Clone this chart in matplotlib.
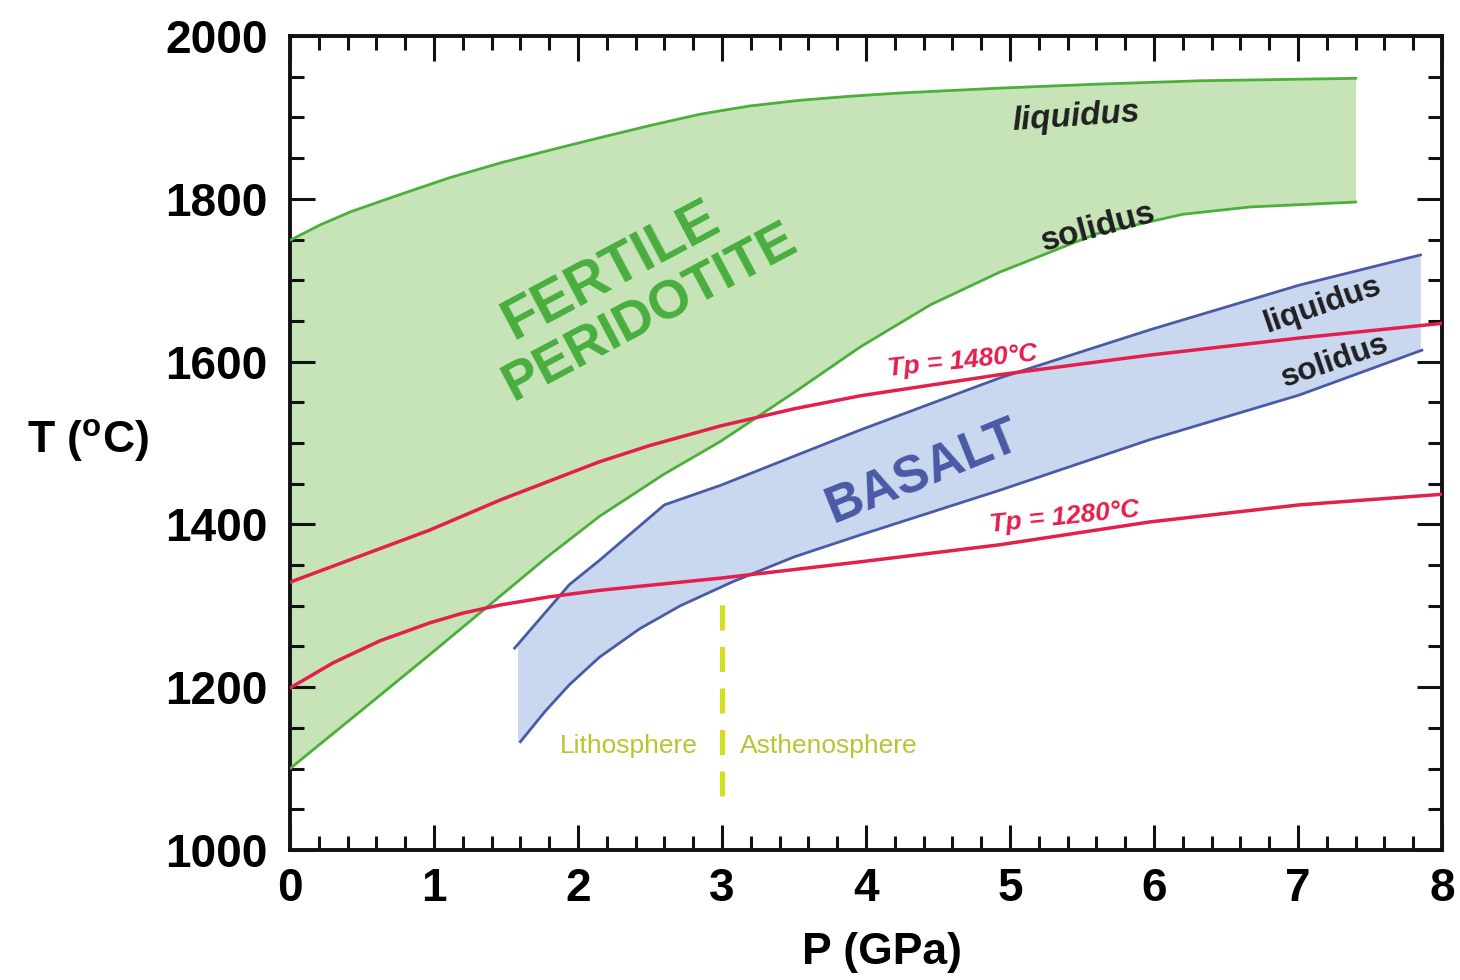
import matplotlib
matplotlib.use("Agg")
import matplotlib.pyplot as plt
from matplotlib.ticker import MultipleLocator
import numpy as np

plt.rcParams['font.family'] = ['Liberation Sans', 'DejaVu Sans']

# Fertile peridotite
per_liq_P = [0.0, 0.21, 0.42, 0.76, 1.11, 1.46, 1.81, 2.15, 2.5, 2.85, 3.19, 3.54, 3.89, 4.24, 4.93, 5.63, 6.32, 7.4]
per_liq_T = [1749, 1768, 1784, 1805, 1826, 1844, 1860, 1875, 1890, 1904, 1914, 1921, 1926, 1930, 1936, 1941, 1945, 1948]
per_sol_P = [0.0, 0.5, 0.97, 1.46, 1.8, 2.15, 2.6, 2.99, 3.5, 3.96, 4.45, 4.93, 5.6, 6.2, 6.67, 7.4]
per_sol_T = [1100, 1172, 1240, 1312, 1362, 1410, 1462, 1502, 1562, 1618, 1670, 1710, 1757, 1781, 1790, 1796]

# Basalt
bas_liq_P = [1.56, 1.94, 2.15, 2.6, 2.99, 3.96, 4.93, 5.97, 7.01, 7.85]
bas_liq_T = [1248, 1326, 1356, 1424, 1448, 1516, 1580, 1639, 1694, 1731]
bas_sol_P = [1.6, 1.77, 1.94, 2.15, 2.43, 2.71, 3.08, 3.5, 3.96, 4.93, 5.97, 7.01, 7.86]
bas_sol_T = [1133, 1170, 1203, 1237, 1272, 1300, 1330, 1360, 1387, 1442, 1504, 1559, 1614]

# Adiabats
tp1480_P = [0.0, 0.97, 1.46, 2.15, 2.5, 2.99, 3.5, 3.96, 4.93, 5.97, 7.01, 8.0]
tp1480_T = [1329, 1393, 1430, 1477, 1497, 1521, 1542, 1558, 1584, 1608, 1629, 1647]
tp1280_P = [0.0, 0.3, 0.625, 0.97, 1.2, 1.46, 1.8, 2.15, 2.99, 3.96, 4.93, 5.97, 7.01, 8.0]
tp1280_T = [1199, 1230, 1257, 1279, 1291, 1301, 1311, 1319, 1334, 1354, 1375, 1403, 1424, 1437]

# Lithosphere / asthenosphere boundary (drawn top to bottom)
lab_P = 3.0
lab_T = [1301, 1049]

GREEN = '#4caf3c'
GREEN_FILL = '#c6e4b8'
BLUE = '#4a5aa6'
BLUE_FILL = '#c9d7ef'
RED = '#e31f4c'
YEL = '#d2de1e'
YEL_TXT = '#b9c431'

fig = plt.figure(figsize=(14.6, 9.8), dpi=100)
ax = fig.add_axes([290/1460, 1-850/980, (1442-290)/1460, (850-36)/980])

# peridotite field
pgrid = np.linspace(0, 7.4, 300)
liq = np.interp(pgrid, per_liq_P, per_liq_T)
sol = np.interp(pgrid, per_sol_P, per_sol_T)
ax.fill_between(pgrid, sol, liq, color=GREEN_FILL, lw=0, zorder=1)
ax.plot(per_liq_P, per_liq_T, color=GREEN, lw=2, zorder=3)
ax.plot(per_sol_P, per_sol_T, color=GREEN, lw=2, zorder=3)

# basalt field
bgrid = np.linspace(1.58, 7.85, 300)
bl = np.interp(bgrid, bas_liq_P, bas_liq_T)
bs = np.interp(bgrid, bas_sol_P, bas_sol_T)
ax.fill_between(bgrid, bs, bl, color=BLUE_FILL, lw=0, zorder=2)
ax.plot(bas_liq_P, bas_liq_T, color=BLUE, lw=2, zorder=3)
ax.plot(bas_sol_P, bas_sol_T, color=BLUE, lw=2, zorder=3)

# adiabats
ax.plot(tp1480_P, tp1480_T, color=RED, lw=2.5, zorder=4)
ax.plot(tp1280_P, tp1280_T, color=RED, lw=2.5, zorder=4)

# LAB
ax.plot([lab_P, lab_P], lab_T, color=YEL, lw=3.6, dashes=(5, 3.3), zorder=4)
ax.text(2.35, 1128, 'Lithosphere', color=YEL_TXT, fontsize=19, ha='center', va='center')
ax.text(3.125, 1128, 'Asthenosphere', color=YEL_TXT, fontsize=19, ha='left', va='center')

# labels
ax.text(2.23, 1711, 'FERTILE', color='#4aae3f', fontsize=41, fontweight='bold',
        rotation=28, ha='center', va='center', rotation_mode='anchor', zorder=5)
ax.text(2.5, 1660, 'PERIDOTITE', color='#4aae3f', fontsize=39, fontweight='bold',
        rotation=28, ha='center', va='center', rotation_mode='anchor', zorder=5)
ax.text(4.40, 1463, 'BASALT', color='#4a5aa6', fontsize=37, fontweight='bold',
        rotation=22, ha='center', va='center', rotation_mode='anchor', zorder=5)

ax.text(5.46, 1900, 'liquidus', fontsize=24, fontweight='bold', style='italic',
        color='#1f1f1f', rotation=4, ha='center', va='center', rotation_mode='anchor', zorder=5)
ax.text(5.61, 1764, 'solidus', fontsize=24, fontweight='bold',
        color='#1f1f1f', rotation=15, ha='center', va='center', rotation_mode='anchor', zorder=5)
ax.text(7.17, 1670, 'liquidus', fontsize=23, fontweight='bold',
        color='#1f1f1f', rotation=19, ha='center', va='center', rotation_mode='anchor', zorder=5)
ax.text(7.26, 1600, 'solidus', fontsize=23, fontweight='bold',
        color='#1f1f1f', rotation=19, ha='center', va='center', rotation_mode='anchor', zorder=5)

ax.text(4.67, 1600, 'Tp = 1480°C', fontsize=19, fontweight='bold', style='italic',
        color=RED, rotation=6, ha='center', va='center', rotation_mode='anchor', zorder=5)
ax.text(5.38, 1409, 'Tp = 1280°C', fontsize=19, fontweight='bold', style='italic',
        color=RED, rotation=6, ha='center', va='center', rotation_mode='anchor', zorder=5)

ax.set_xlim(0, 8)
ax.set_ylim(1000, 2000)
ax.xaxis.set_major_locator(MultipleLocator(1))
ax.xaxis.set_minor_locator(MultipleLocator(0.2))
ax.yaxis.set_major_locator(MultipleLocator(200))
ax.yaxis.set_minor_locator(MultipleLocator(50))
ax.tick_params(which='both', direction='in', top=True, right=True, width=2.2, color='#111111')
ax.tick_params(which='major', length=18, labelsize=33)
ax.tick_params(axis='x', which='major', pad=12)
ax.tick_params(axis='y', which='major', pad=16)
ax.tick_params(which='minor', length=10)
for lbl in ax.get_xticklabels() + ax.get_yticklabels():
    lbl.set_fontweight('bold')
for s in ax.spines.values():
    s.set_linewidth(2.8)
    s.set_color('#111111')

fig.text(882/1460, 1-952/980, 'P (GPa)', fontsize=32, fontweight='bold', ha='center', va='center')
fig.text(88/1460, 1-441/980, r'T ($\mathregular{^o}$C)', fontsize=32, fontweight='bold',
         ha='center', va='center')

fig.savefig('out.png', dpi=100)
